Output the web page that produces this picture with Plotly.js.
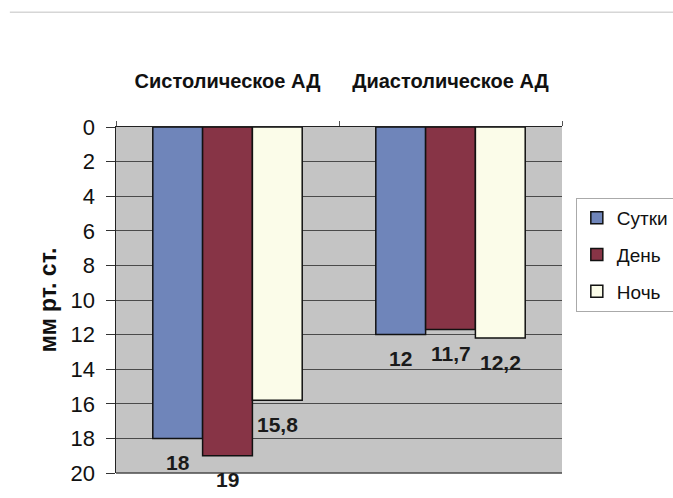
<!DOCTYPE html>
<html>
<head>
<meta charset="utf-8">
<script src="https://cdn.plot.ly/plotly-3.0.1.min.js"></script>
<style>
  html, body { margin: 0; padding: 0; background: #ffffff; }
  #chart { width: 673px; height: 498px; }
</style>
</head>
<body>
<div id="chart"></div>
<script>
// Blood pressure decrease, mm Hg, by period
const categories = ['Систолическое АД', 'Диастолическое АД'];
const seriesNames = ['Сутки', 'День', 'Ночь'];
const sutki = [18, 12];
const den = [19, 11.7];
const noch = [15.8, 12.2];
const yTicks = [0, 2, 4, 6, 8, 10, 12, 14, 16, 18, 20];

const colors = ['#6f85ba', '#873446', '#fbfce9'];
const values = [sutki, den, noch];
const fmt = v => String(v).replace('.', ',');

const W = 673, H = 498;
const margin = { l: 116, r: 111, t: 127, b: 25 };
const bargap = 0.33;

const traces = values.map((vals, i) => ({
  type: 'bar',
  name: seriesNames[i],
  x: categories,
  y: vals,
  marker: { color: colors[i], line: { color: '#111111', width: 1.5 } },
  legendgroup: 'g' + i,
  hoverinfo: 'skip'
}));

// value labels sit below each bar end, shifted sideways to their bar in the group
const plotW = W - margin.l - margin.r;
const barW = plotW / categories.length * (1 - bargap) / values.length;
const annotations = [];
values.forEach((vals, i) => {
  vals.forEach((v, j) => {
    annotations.push({
      x: categories[j], y: v, xref: 'x', yref: 'y',
      text: '<b>' + fmt(v) + '</b>',
      showarrow: false,
      xanchor: 'center', yanchor: 'middle',
      xshift: (i - (values.length - 1) / 2) * barW,
      yshift: -24,
      font: { family: 'Liberation Sans, Arial, sans-serif', size: 21, color: '#1a1a1a' }
    });
  });
});

const layout = {
  width: W,
  height: H,
  margin: Object.assign({ autoexpand: false }, margin),
  paper_bgcolor: '#ffffff',
  plot_bgcolor: '#c4c4c4',
  font: { family: 'Liberation Sans, Arial, sans-serif', color: '#111111' },
  barmode: 'group',
  bargap: bargap,
  bargroupgap: 0,
  showlegend: true,
  legend: {
    x: 1.031, y: 0.795, xanchor: 'left', yanchor: 'top',
    bgcolor: '#ffffff', bordercolor: '#aaaaaa', borderwidth: 1,
    font: { size: 19, color: '#111111' },
    itemwidth: 30,
    traceorder: 'grouped', tracegroupgap: 9
  },
  xaxis: {
    side: 'top',
    type: 'category',
    showline: true, linecolor: '#222222', linewidth: 1.5,
    ticks: 'outside', tickson: 'boundaries', ticklen: 5, tickcolor: '#555555',
    ticklabelstandoff: 30,
    tickfont: { size: 20, color: '#111111', weight: 'bold' },
    showgrid: false,
    fixedrange: true
  },
  yaxis: {
    range: [20, 0],
    tickvals: yTicks,
    ticktext: yTicks.map(String),
    ticks: 'outside', ticklen: 9, tickcolor: '#333333',
    ticklabelstandoff: 6,
    tickfont: { size: 22, color: '#111111' },
    showline: true, linecolor: '#222222', linewidth: 1.5,
    showgrid: true, gridcolor: '#4a4a4a', gridwidth: 1,
    zeroline: false,
    title: { text: 'мм рт. ст.', font: { size: 23, color: '#111111', weight: 'bold' }, standoff: 7 },
    fixedrange: true
  },
  annotations: annotations,
  shapes: [
    { type: 'line', xref: 'paper', yref: 'paper', x0: -0.238, x1: 1.25, y0: 1.332, y1: 1.332,
      line: { color: '#d6d6d6', width: 1.5 } },
    { type: 'line', xref: 'paper', yref: 'paper', x0: 0, x1: 1, y0: 0, y1: 0,
      line: { color: '#4a4a4a', width: 1.5 } }
  ]
};

Plotly.newPlot('chart', traces, layout, { displayModeBar: false, staticPlot: true });
</script>
</body>
</html>
